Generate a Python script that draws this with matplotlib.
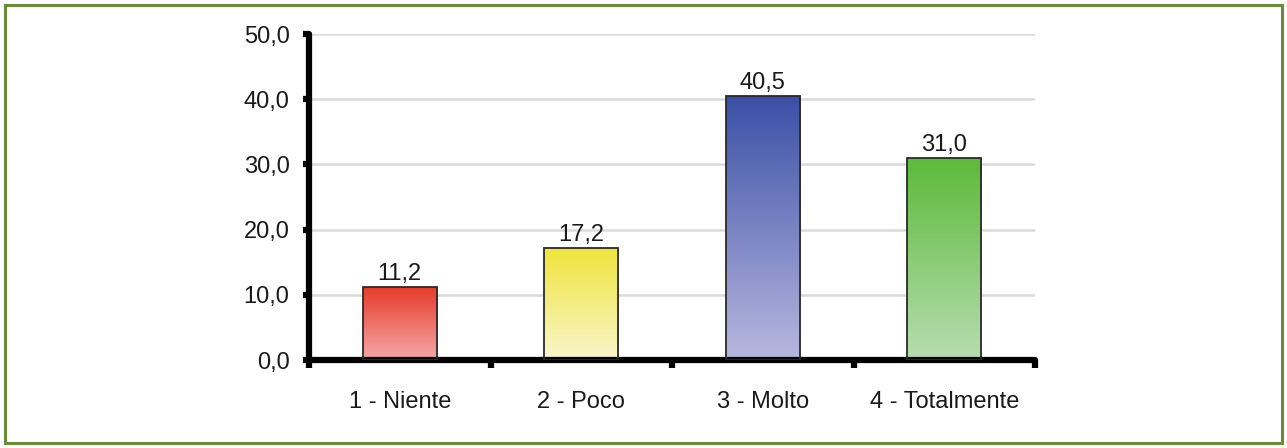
import numpy as np
import matplotlib
matplotlib.use("Agg")
import matplotlib.pyplot as plt
from matplotlib.colors import LinearSegmentedColormap
from matplotlib.patches import Rectangle

plt.rcParams['font.family'] = ['Liberation Sans', 'DejaVu Sans']

categories = ["1 - Niente", "2 - Poco", "3 - Molto", "4 - Totalmente"]
values = [11.2, 17.2, 40.5, 31.0]
top_colors = ["#e63a28", "#f0e43a", "#3a4fa6", "#5cba3a"]
bottom_colors = ["#f5a9a9", "#f9f6cc", "#b8b8df", "#b8ddb0"]
yticks = [0, 10, 20, 30, 40, 50]

FS = 17

fig = plt.figure(figsize=(12.87, 4.48), dpi=100)
fig.patch.set_facecolor("white")

# outer frame
fig.add_artist(Rectangle((5 / 1287, 5 / 448), 1277 / 1287, 438 / 448,
                         transform=fig.transFigure, fill=False,
                         edgecolor="#6b8a3a", linewidth=2.2))

ax = fig.add_axes([309 / 1287, 88 / 448, 726 / 1287, 326 / 448])
x = np.arange(len(categories))
width = 0.41

for yv in yticks[1:]:
    ax.axhline(yv, color="#dadada", linewidth=1.8, zorder=0)

bars = ax.bar(x, values, width=width, facecolor="none",
              edgecolor="#2a2a2a", linewidth=1.3, zorder=3)

grad = np.linspace(0, 1, 256).reshape(-1, 1)
for bar, ct, cb in zip(bars, top_colors, bottom_colors):
    cmap = LinearSegmentedColormap.from_list("g", [cb, ct])
    x0, y0 = bar.get_x(), bar.get_y()
    w, h = bar.get_width(), bar.get_height()
    im = ax.imshow(grad, cmap=cmap, aspect="auto", origin="lower",
                   extent=(x0, x0 + w, y0, y0 + h), zorder=2)
    im.set_clip_path(bar)

ax.set_xlim(-0.5, len(categories) - 0.5)
ax.set_ylim(0, 50)

for xi, v in zip(x, values):
    ax.annotate(f"{v:.1f}".replace(".", ","), (xi, v), xytext=(0, 5),
                textcoords="offset points", ha="center", va="baseline",
                fontsize=FS, color="#1a1a1a", zorder=4)

for s in ["top", "right"]:
    ax.spines[s].set_visible(False)
for s in ["left", "bottom"]:
    ax.spines[s].set_linewidth(4.5)
    ax.spines[s].set_color("black")
    ax.spines[s].set_capstyle("round")

ax.set_yticks(yticks)
ax.set_yticklabels([f"{t:.1f}".replace(".", ",") for t in yticks],
                   fontsize=FS, color="#1a1a1a")
ax.tick_params(axis="y", length=4, width=4.5, color="black", pad=10)

ax.set_xticks(x)
ax.set_xticklabels(categories, fontsize=FS, color="#1a1a1a")
ax.tick_params(axis="x", which="major", length=0, pad=22)
ax.set_xticks(np.arange(-0.5, len(categories)), minor=True)
ax.tick_params(axis="x", which="minor", length=6, width=4.5,
               color="black", direction="out")

fig.savefig("out.png", dpi=100, facecolor="white")
